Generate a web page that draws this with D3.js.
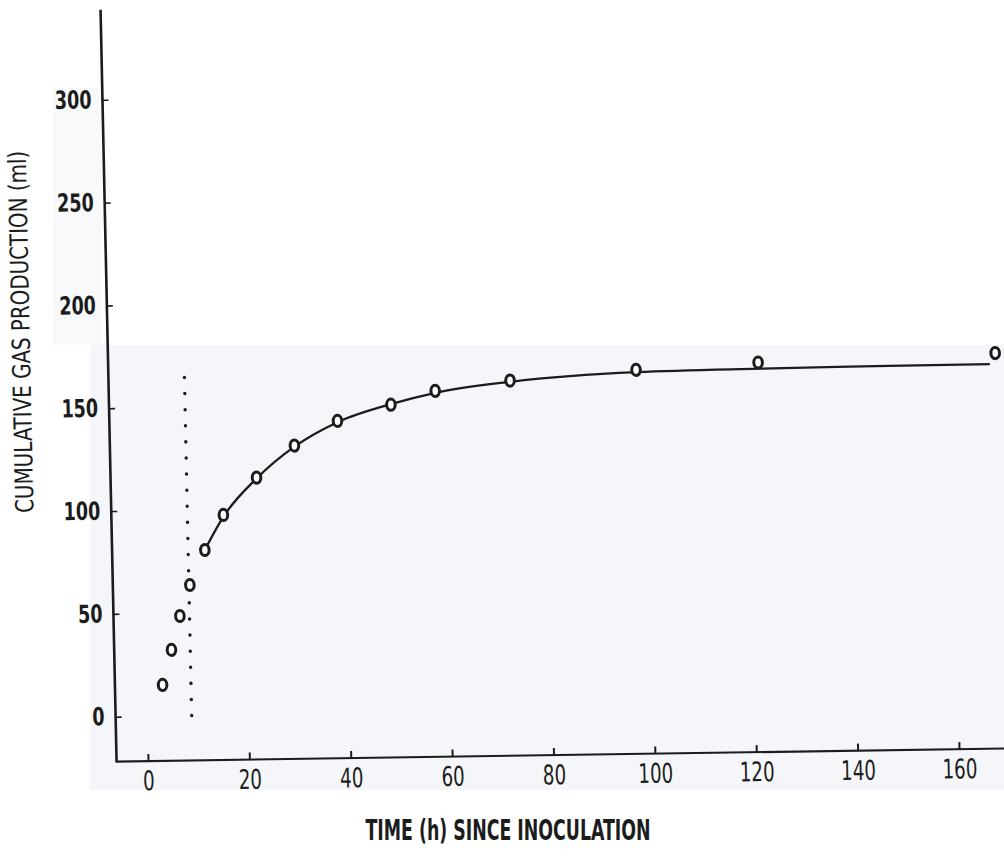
<!DOCTYPE html>
<html>
<head>
<meta charset="utf-8">
<script src="https://cdn.jsdelivr.net/npm/d3@7/dist/d3.min.js"></script>
<style>
  html, body { margin: 0; padding: 0; background: #ffffff; }
  svg { display: block; }
  text { font-family: "Liberation Sans Narrow", "DejaVu Sans Condensed", "Liberation Sans", Arial, sans-serif; fill: #1c1c1c; }
</style>
</head>
<body>
<svg id="chart" width="1004" height="856"></svg>
<script>
// Sampling times (h) and cumulative gas volumes (ml)
const timeH = [3.2, 5.1, 6.9, 9.0, 12.1, 15.9, 22.6, 30.2, 38.8, 49.4, 58.2, 73.0, 97.9, 122.0, 168.8];
const gasMl = [15.1, 32.1, 48.5, 63.5, 80.4, 97.3, 115.2, 130.5, 142.2, 149.7, 156.1, 160.6, 164.9, 167.6, 170.5];

// Fitted production curve
const fitTime = [12.1, 16.0, 22.6, 30.2, 38.8, 49.4, 58.2, 73.0, 98.0, 122.0, 145.0, 167.7];
const fitGas  = [80.4, 96.8, 114.8, 130.0, 141.6, 150.0, 155.2, 160.0, 163.8, 164.6, 165.0, 165.2];

// Lag time marker
const lagTime = [8.8, 8.8];
const lagGas = [0, 170];

// Axis ticks and extents
const xTicks = [0, 20, 40, 60, 80, 100, 120, 140, 160];
const yTicks = [0, 50, 100, 150, 200, 250, 300];
const xExtent = [-6.2, 174];
const yExtent = [-21.8, 343.8];

const svg = d3.select("#chart");
const ink = "#1c1c1c";

// Light paper shading behind the lower plot area
svg.append("rect").attr("x", 90).attr("y", 345).attr("width", 914).attr("height", 445).attr("fill", "#f4f6f9");
svg.append("rect").attr("x", 53).attr("y", 88).attr("width", 48).attr("height", 257).attr("fill", "#f8f9fb");

const x = d3.scaleLinear().domain([0, 160]).range([148, 959]);
const y = d3.scaleLinear().domain([0, 300]).range([716.7, 99.8]);

// The printed figure sits slightly sheared on the page
const cx = x(xExtent[0]), cy = y(yExtent[0]);
const g = svg.append("g")
  .attr("transform", `translate(${cx},${cy}) matrix(1,-0.0147,0.0213,1,0,0) translate(${-cx},${-cy})`);

// Axis lines
g.append("line")
  .attr("x1", x(xExtent[0])).attr("x2", x(xExtent[0]))
  .attr("y1", y(yExtent[0])).attr("y2", y(yExtent[1]))
  .attr("stroke", ink).attr("stroke-width", 2.6);
g.append("line")
  .attr("x1", x(xExtent[0]) - 1).attr("x2", x(xExtent[1]))
  .attr("y1", y(yExtent[0])).attr("y2", y(yExtent[0]))
  .attr("stroke", ink).attr("stroke-width", 2.2);

// Y axis: ticks point inward
const yAxis = d3.axisLeft(y).tickValues(yTicks).tickSizeInner(-6).tickSizeOuter(0).tickPadding(11);
const yG = g.append("g").attr("transform", `translate(${x(xExtent[0])},0)`).call(yAxis);
yG.select(".domain").remove();
yG.selectAll(".tick line").attr("stroke", ink).attr("stroke-width", 1.6);
yG.selectAll(".tick text")
  .attr("font-size", 25).attr("font-weight", "bold").attr("fill", ink)
  .attr("font-family", "'Liberation Sans Narrow', 'DejaVu Sans Condensed', 'Liberation Sans', sans-serif")
  .attr("textLength", d => String(d).length * 12.2)
  .attr("lengthAdjust", "spacingAndGlyphs");

// X axis: ticks point upward
const xAxis = d3.axisBottom(x).tickValues(xTicks).tickSizeInner(-7).tickSizeOuter(0).tickPadding(10);
const xG = g.append("g").attr("transform", `translate(0,${y(yExtent[0])})`).call(xAxis);
xG.select(".domain").remove();
xG.selectAll(".tick line").attr("stroke", ink).attr("stroke-width", 2);
xG.selectAll(".tick text")
  .attr("font-size", 27).attr("fill", ink)
  .attr("font-family", "'Liberation Sans Narrow', 'DejaVu Sans Condensed', 'Liberation Sans', sans-serif")
  .attr("textLength", d => String(d).length * 11.6)
  .attr("lengthAdjust", "spacingAndGlyphs");

// Lag time dotted line
g.append("path")
  .datum(d3.zip(lagTime, lagGas))
  .attr("d", d3.line().x(d => x(d[0])).y(d => y(d[1])))
  .attr("fill", "none").attr("stroke", ink)
  .attr("stroke-width", 3.4).attr("stroke-linecap", "round")
  .attr("stroke-dasharray", "0.1 16");

// Fitted curve
g.append("path")
  .datum(d3.zip(fitTime, fitGas))
  .attr("d", d3.line().x(d => x(d[0])).y(d => y(d[1])).curve(d3.curveMonotoneX))
  .attr("fill", "none").attr("stroke", ink).attr("stroke-width", 2.3);

// Observed points
g.selectAll("ellipse.obs")
  .data(d3.zip(timeH, gasMl))
  .join("ellipse")
  .attr("class", "obs")
  .attr("cx", d => x(d[0])).attr("cy", d => y(d[1]))
  .attr("rx", 4.3).attr("ry", 5.6)
  .attr("fill", "#ffffff").attr("stroke", ink).attr("stroke-width", 3);

// Axis titles
g.append("text")
  .attr("transform", `translate(30,${(y(yExtent[0]) + y(yExtent[1])) / 2 - 55}) rotate(-90)`)
  .attr("text-anchor", "middle").attr("dy", "0.35em")
  .attr("font-size", 25).attr("fill", ink)
  .attr("textLength", 362).attr("lengthAdjust", "spacingAndGlyphs")
  .text("CUMULATIVE GAS PRODUCTION (ml)");

svg.append("text")
  .attr("x", 508).attr("y", 830)
  .attr("text-anchor", "middle").attr("dy", "0.35em")
  .attr("font-size", 28).attr("font-weight", "bold").attr("fill", "#111")
  .attr("textLength", 285).attr("lengthAdjust", "spacingAndGlyphs")
  .text("TIME (h) SINCE INOCULATION");
</script>
</body>
</html>
